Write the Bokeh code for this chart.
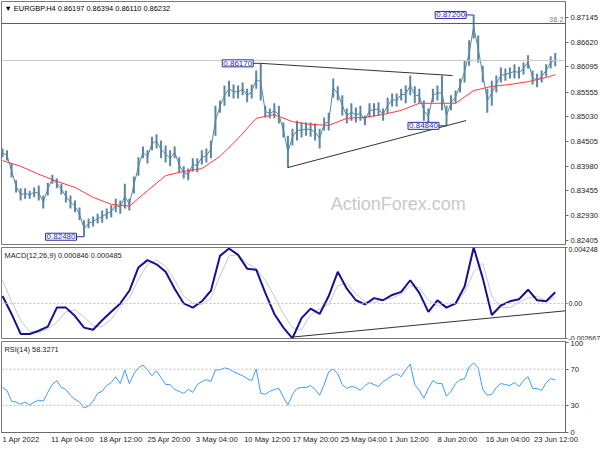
from bokeh.plotting import figure
from bokeh.layouts import column
from bokeh.models import Range1d, FixedTicker, Label, Span
from bokeh.embed import file_html
from bokeh.resources import INLINE

# ---------------- data ----------------
bar_step = 3  # one sample every 3 H4 bars
highs = [0.8436, 0.8432, 0.8404, 0.8368, 0.8351, 0.8351, 0.8346, 0.8353, 0.8357, 0.8336,
         0.8363, 0.8380, 0.8372, 0.8361, 0.8346, 0.8336, 0.8325, 0.8310, 0.8283, 0.8287,
         0.8291, 0.8297, 0.8304, 0.8308, 0.8315, 0.8329, 0.8325, 0.8361, 0.8329, 0.8376,
         0.8417, 0.8440, 0.8432, 0.8461, 0.8466, 0.8453, 0.8442, 0.8432, 0.8440, 0.8417,
         0.8398, 0.8393, 0.8415, 0.8415, 0.8432, 0.8436, 0.8453, 0.8527, 0.8538, 0.8570,
         0.8580, 0.8572, 0.8570, 0.8576, 0.8563, 0.8572, 0.8602, 0.8617, 0.8527, 0.8521,
         0.8532, 0.8527, 0.8491, 0.8463, 0.8478, 0.8495, 0.8491, 0.8491, 0.8491, 0.8489,
         0.8478, 0.8502, 0.8512, 0.8585, 0.8568, 0.8549, 0.8521, 0.8532, 0.8523, 0.8527,
         0.8506, 0.8532, 0.8532, 0.8534, 0.8521, 0.8544, 0.8553, 0.8553, 0.8563, 0.8570,
         0.8591, 0.8568, 0.8563, 0.8538, 0.8521, 0.8563, 0.8570, 0.8591, 0.8527, 0.8549,
         0.8559, 0.8585, 0.8623, 0.8666, 0.8720, 0.8676, 0.8612, 0.8563, 0.8580, 0.8591,
         0.8608, 0.8606, 0.8608, 0.8615, 0.8610, 0.8619, 0.8634, 0.8602, 0.8595, 0.8602,
         0.8615, 0.8632, 0.8639]
lows = [0.8417, 0.8410, 0.8374, 0.8342, 0.8325, 0.8329, 0.8329, 0.8332, 0.8325, 0.8308,
        0.8336, 0.8361, 0.8351, 0.8338, 0.8321, 0.8308, 0.8300, 0.8283, 0.8248, 0.8266,
        0.8270, 0.8276, 0.8278, 0.8285, 0.8289, 0.8300, 0.8297, 0.8308, 0.8304, 0.8340,
        0.8378, 0.8415, 0.8404, 0.8432, 0.8436, 0.8415, 0.8406, 0.8398, 0.8415, 0.8385,
        0.8372, 0.8368, 0.8387, 0.8385, 0.8402, 0.8406, 0.8415, 0.8463, 0.8512, 0.8527,
        0.8546, 0.8542, 0.8542, 0.8549, 0.8534, 0.8542, 0.8563, 0.8538, 0.8502, 0.8500,
        0.8500, 0.8489, 0.8459, 0.8395, 0.8442, 0.8453, 0.8459, 0.8463, 0.8461, 0.8453,
        0.8436, 0.8474, 0.8474, 0.8544, 0.8538, 0.8506, 0.8489, 0.8495, 0.8491, 0.8495,
        0.8485, 0.8502, 0.8504, 0.8506, 0.8495, 0.8510, 0.8525, 0.8525, 0.8538, 0.8532,
        0.8549, 0.8532, 0.8532, 0.8495, 0.8487, 0.8534, 0.8538, 0.8517, 0.8484, 0.8517,
        0.8532, 0.8555, 0.8576, 0.8612, 0.8670, 0.8619, 0.8576, 0.8512, 0.8527, 0.8555,
        0.8576, 0.8580, 0.8585, 0.8585, 0.8585, 0.8593, 0.8606, 0.8572, 0.8566, 0.8576,
        0.8589, 0.8606, 0.8611]

ma_bars = [0, 12, 24, 36, 48, 60, 72, 84, 96, 108, 120, 132, 144, 156, 168, 180,
           192, 204, 216, 228, 240, 252, 264, 276, 288, 300, 312, 324, 336, 348, 360, 366]
ma_vals = [0.8410, 0.8398, 0.8381, 0.8366, 0.8353, 0.8332, 0.8317, 0.8313, 0.8346, 0.8378,
           0.8387, 0.8393, 0.8419, 0.8457, 0.8500, 0.8508, 0.8493, 0.8487, 0.8485, 0.8500,
           0.8502, 0.8508, 0.8517, 0.8532, 0.8532, 0.8532, 0.8559, 0.8568, 0.8572, 0.8578,
           0.8587, 0.8593]

macd_step = 6
macd = [0.00056, -0.00080, -0.00232, -0.00232, -0.00208, -0.00176, -0.00032, -0.00032, -0.00096, -0.00184,
        -0.00200, -0.00128, -0.00064, 0.00000, 0.00096, 0.00273, 0.00329, 0.00297, 0.00240, 0.00112,
        0.00000, -0.00032, 0.00016, 0.00096, 0.00361, 0.00417, 0.00369, 0.00264, 0.00256, 0.00080,
        -0.00080, -0.00184, -0.00265, -0.00112, -0.00040, -0.00080, 0.00056, 0.00240, 0.00112, 0.00024,
        -0.00008, 0.00040, 0.00024, 0.00064, 0.00088, 0.00176, 0.00080, -0.00064, 0.00024, -0.00032,
        0.00000, 0.00128, 0.00425, 0.00192, -0.00088, -0.00016, 0.00016, 0.00032, 0.00104, 0.00024,
        0.00016, 0.00085]
signal = [0.00176, 0.00016, -0.00128, -0.00216, -0.00224, -0.00192, -0.00144, -0.00064, -0.00048, -0.00104,
          -0.00168, -0.00176, -0.00120, -0.00024, 0.00040, 0.00184, 0.00297, 0.00329, 0.00281, 0.00176,
          0.00056, 0.00000, -0.00008, 0.00040, 0.00208, 0.00361, 0.00369, 0.00305, 0.00264, 0.00176,
          0.00056, -0.00080, -0.00184, -0.00200, -0.00088, -0.00040, -0.00008, 0.00136, 0.00152, 0.00072,
          0.00016, 0.00008, 0.00032, 0.00040, 0.00072, 0.00136, 0.00120, 0.00024, -0.00016, -0.00024,
          -0.00008, 0.00088, 0.00240, 0.00305, 0.00056, -0.00032, -0.00032, 0.00008, 0.00040, 0.00056,
          0.00016, 0.00049]

rsi = [49.8, 46.5, 34.7, 33.6, 31.4, 33.6, 30.3, 33.6, 35.7, 34.7,
       44.4, 53.0, 57.4, 49.8, 47.6, 41.1, 36.8, 33.6, 27.1, 29.2,
       34.7, 43.3, 45.5, 51.9, 55.2, 61.7, 54.1, 69.2, 54.1, 64.9,
       71.4, 74.6, 69.2, 62.8, 68.2, 60.6, 53.0, 53.0, 47.6, 45.5,
       43.3, 47.6, 44.4, 53.0, 56.3, 58.4, 56.3, 69.2, 69.2, 71.4,
       70.3, 67.1, 64.9, 62.8, 59.5, 57.4, 70.3, 43.3, 42.2, 45.5,
       47.6, 48.7, 39.0, 30.3, 42.2, 48.7, 49.8, 49.8, 51.9, 47.6,
       41.1, 53.0, 67.1, 70.3, 64.9, 53.0, 48.7, 50.9, 49.8, 46.5,
       51.9, 55.2, 53.0, 50.9, 56.3, 59.5, 62.8, 64.9, 61.7, 69.2,
       75.7, 53.0, 46.5, 37.9, 48.7, 57.4, 54.1, 54.1, 40.1, 45.5,
       54.1, 58.4, 59.5, 72.5, 76.8, 71.4, 47.6, 41.1, 42.2, 49.8,
       54.1, 53.0, 51.9, 55.2, 50.9, 57.4, 61.7, 48.7, 48.7, 46.5,
       55.2, 59.5, 58.3]

time_tick_bars = [0, 32, 64, 96, 128, 160, 192, 224, 256, 288, 320, 352]
time_tick_labels = ["1 Apr 2022", "11 Apr 04:00", "18 Apr 12:00", "25 Apr 20:00",
                    "3 May 04:00", "10 May 12:00", "17 May 20:00", "25 May 04:00",
                    "1 Jun 12:00", "8 Jun 20:00", "16 Jun 04:00", "23 Jun 12:00"]
price_ticks = [0.87145, 0.86620, 0.86095, 0.85555, 0.85030, 0.84505, 0.83980, 0.83455, 0.82930, 0.82405]
macd_ticks = [-0.002667, 0.0, 0.004248]
macd_tick_labels = ["-0.002667", "0.00", "0.004248"]
rsi_ticks = [0, 30, 70, 100]

swing_bars = [54, 171, 294, 312]
swing_vals = [0.82480, 0.86170, 0.84840, 0.87200]
swing_texts = ["0.82480", "0.86170", "0.84840", "0.87200"]

tri_upper_bars = [171, 298]
tri_upper_vals = [0.86170, 0.85910]
tri_lower_bars = [189, 307]
tri_lower_vals = [0.83953, 0.84953]
macd_trend_bars = [191, 373]
macd_trend_vals = [-0.00257, -0.00056]

last_price = 0.86232
fib_level = 0.87018
title_text = "\u25bc EURGBP.H4  0.86197 0.86394 0.86110 0.86232"
macd_title = "MACD(12,26,9) 0.000846 0.000485"
rsi_title = "RSI(14) 58.3271"

# ---------------- styling ----------------
FONT = "Liberation Sans"
FS_PX = 7.6
FS = f"{FS_PX}px"
FRAME_W = 564
X0, X1 = -0.66, 372.8
BAR_COLOR = "#5a86a2"
bars = [i * bar_step for i in range(len(highs))]
mbars = [i * macd_step for i in range(len(macd))]
shared_x = Range1d(X0, X1)

# approximate Liberation Sans advance widths (em) to left-align the time labels at their ticks
CHAR_EM = {" ": 0.278, ":": 0.278, "A": 0.667, "M": 0.833, "J": 0.5,
           "p": 0.556, "r": 0.333, "a": 0.556, "y": 0.5, "u": 0.556, "n": 0.556}


def half_width_bars(s):
    em = sum(CHAR_EM.get(c, 0.556) for c in s)
    return em * FS_PX / 2 / (FRAME_W / (X1 - X0))


def make_fig(h, yr, top, bottom, label_fs=FS, tick_out=3, standoff=2):
    f = figure(frame_width=FRAME_W, frame_height=h, x_range=shared_x, y_range=yr,
               y_axis_location="right", x_axis_location=None if bottom < 10 else "below",
               toolbar_location=None, output_backend="svg",
               min_border_left=1, min_border_top=top, min_border_bottom=bottom,
               min_border_right=34)
    f.grid.visible = False
    f.outline_line_color = "#7a7a7a"
    f.outline_line_width = 1
    f.background_fill_color = "white"
    f.border_fill_color = "white"
    ax = f.yaxis[0]
    ax.axis_line_color = "#6a6a6a"
    ax.major_tick_out = tick_out
    ax.major_tick_in = 0
    ax.minor_tick_out = 0
    ax.minor_tick_in = 0
    ax.major_tick_line_color = "#6a6a6a"
    ax.major_label_standoff = standoff
    ax.major_label_text_font = FONT
    ax.major_label_text_font_size = label_fs
    ax.major_label_text_color = "#222222"
    return f


# ---- price pane ----
p1 = make_fig(243, Range1d(0.82315, 0.87486), 1, 2)
p1.yaxis[0].ticker = FixedTicker(ticks=price_ticks)
p1.yaxis[0].major_label_overrides = {t: f"{t:.5f}" for t in price_ticks}

p1.add_layout(Span(location=fib_level, dimension="width", line_color="#5a5a5a", line_width=1))
p1.add_layout(Span(location=last_price, dimension="width", line_color="#c8c8c8", line_width=1))

p1.add_layout(Label(x=262, y=0.8317, text="ActionForex.com", text_font=FONT,
                    text_font_size="18px", text_color="#c9c9c9", text_align="center",
                    text_baseline="middle"))

p1.segment(x0=bars, y0=lows, x1=bars, y1=highs, line_color=BAR_COLOR, line_width=2)
p1.line(bars, [(a + b) / 2 for a, b in zip(highs, lows)], line_color=BAR_COLOR, line_width=1)
p1.line(ma_bars, ma_vals, line_color="#ff3b3b", line_width=1)
p1.line(tri_upper_bars, tri_upper_vals, line_color="#333333", line_width=1)
p1.line(tri_lower_bars, tri_lower_vals, line_color="#333333", line_width=1)

for b, v, t in zip(swing_bars, swing_vals, swing_texts):
    p1.line([b - 5, b], [v, v], line_color="#2b2bb0", line_width=1)
    p1.add_layout(Label(x=b - 5, y=v, text=t, text_font=FONT, text_font_size="8px",
                        text_color="#2b2bb0", text_align="right", text_baseline="middle",
                        border_line_color="#2b2bb0", background_fill_color="white",
                        padding=1))

p1.add_layout(Label(x=X0, y=0.87486, x_offset=3, y_offset=-2, text=title_text, text_font=FONT,
                    text_font_size="7.4px", text_color="black", text_baseline="top"))
p1.add_layout(Label(x=X1, y=fib_level, x_offset=-2, y_offset=1, text="38.2", text_font=FONT,
                    text_font_size="7.4px", text_color="#7a7a7a", text_align="right",
                    text_baseline="bottom"))
p1.add_layout(Label(x=X1, y=last_price, x_offset=1, text="0.86232", text_font=FONT,
                    text_font_size="7.6px", text_color="white", text_align="left",
                    text_baseline="middle", background_fill_color="black", padding=2))

# ---- MACD pane ----
p2 = make_fig(91, Range1d(-0.002667, 0.004248), 1, 2, label_fs="7px", tick_out=2, standoff=1)
p2.yaxis[0].ticker = FixedTicker(ticks=macd_ticks)
p2.yaxis[0].major_label_overrides = dict(zip(macd_ticks, macd_tick_labels))
p2.add_layout(Span(location=0, dimension="width", line_color="#bdbdbd", line_dash="2 2"))
p2.line(mbars, signal, line_color="#c8c8c8", line_width=1)
p2.line(mbars, macd, line_color="#13138f", line_width=2)
p2.line(macd_trend_bars, macd_trend_vals, line_color="#333333", line_width=1)
p2.add_layout(Label(x=X0, y=0.004248, x_offset=3, y_offset=-3, text=macd_title, text_font=FONT,
                    text_font_size="7.4px", text_color="#222222", text_baseline="top"))

# ---- RSI pane ----
p3 = make_fig(91, Range1d(0, 100.6), 1, 17)
p3.yaxis[0].ticker = FixedTicker(ticks=rsi_ticks)
p3.add_layout(Span(location=70, dimension="width", line_color="#bdbdbd", line_dash="2 2"))
p3.add_layout(Span(location=30, dimension="width", line_color="#bdbdbd", line_dash="2 2"))
p3.line(bars, rsi, line_color="#3d9bff", line_width=1)
p3.add_layout(Label(x=X0, y=100.6, x_offset=3, y_offset=-3, text=rsi_title, text_font=FONT,
                    text_font_size="7.4px", text_color="#222222", text_baseline="top"))

# time axis: labels centred on shifted ticks so that each label starts at its bar
label_pos = [b + half_width_bars(t) for b, t in zip(time_tick_bars, time_tick_labels)]
xa = p3.xaxis[0]
xa.ticker = FixedTicker(ticks=label_pos)
xa.major_label_overrides = dict(zip(label_pos, time_tick_labels))
xa.major_label_text_font = FONT
xa.major_label_text_font_size = FS
xa.major_label_text_color = "#222222"
xa.major_label_standoff = 2
xa.axis_line_color = "#6a6a6a"
xa.major_tick_out = 0
xa.major_tick_in = 0
xa.minor_tick_out = 0
xa.minor_tick_in = 0

layout = column(p1, p2, p3, spacing=0)
open("out.html", "w").write(file_html(layout, INLINE))
